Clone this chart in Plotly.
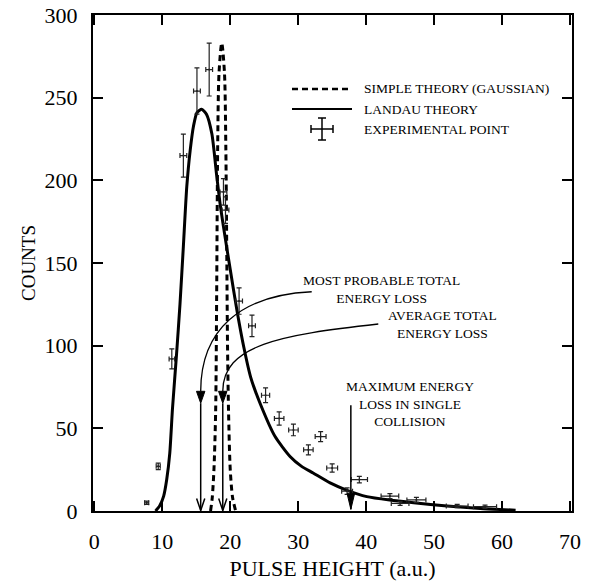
import plotly.graph_objects as go

# ---------------- data ----------------
landau_x = [9.0, 9.6, 10.2, 10.65, 11.1, 11.5, 12.1, 12.6, 13.1, 13.6, 14.1, 14.6, 15.1,
            15.8, 16.5, 17.3, 18.0, 18.5, 19.0, 20.0, 21.0, 22.0, 23.0, 24.4, 26.6, 28.8,
            30.5, 32.2, 34.7, 37.2, 40.1, 43.5, 47.0, 51.9, 56.8, 62.0]
landau_y = [0, 3, 9, 19, 35, 62, 95, 125, 160, 196, 218, 233, 241,
            243, 240, 228, 203, 186, 172, 146, 121, 99, 81, 65, 45, 33,
            27, 23, 17, 12.5, 8.7, 6.6, 5.0, 3.0, 1.5, 0.5]

gauss_x = [17.1, 17.35, 17.6, 17.85, 18.0, 18.15, 18.35, 18.75, 19.15, 19.35, 19.5, 19.6,
           19.75, 20.0, 20.35, 20.8]
gauss_y = [0, 8, 25, 60, 130, 220, 265, 283, 265, 220, 150, 100, 60, 25, 8, 0]

exp_x = [7.7, 9.4, 11.4, 13.1, 15.1, 16.9, 19.0, 19.3, 21.3, 23.2, 25.2, 27.2, 29.3, 31.5,
         33.3, 35.0, 37.2, 39.0, 43.5, 45.0, 47.4, 53.4, 57.5]
exp_y = [5, 27, 92, 215, 254, 267, 193, 182, 127, 112, 70, 56, 49, 37,
         45, 26, 12, 19, 9, 4.6, 6.7, 3, 2.6]
exp_xerr = [0.3, 0.3, 0.4, 0.5, 0.5, 0.5, 0.5, 0.5, 0.5, 0.5, 0.6, 0.7, 0.7, 0.7,
            0.8, 0.8, 0.8, 1.2, 1.3, 1.3, 1.4, 1.6, 1.7]
exp_yerr = [1, 2, 6, 13, 14, 16, 8, 8, 8, 6.5, 4.5, 4, 3.5, 3,
            3, 2.5, 2, 2, 1.5, 1.2, 1.5, 1, 1]

x_ticks = [0, 10, 20, 30, 40, 50, 60, 70]
y_ticks = [0, 50, 100, 150, 200, 250, 300]

MOST_PROBABLE = 15.65
AVERAGE = 18.9
MAX_SINGLE = 37.75

FONT = "Liberation Serif"

fig = go.Figure()

fig.add_trace(go.Scatter(x=gauss_x, y=gauss_y, mode="lines",
                         line=dict(color="black", width=3, dash="6px,4px", shape="spline", smoothing=0.8),
                         showlegend=False, hoverinfo="skip"))
fig.add_trace(go.Scatter(x=landau_x, y=landau_y, mode="lines",
                         line=dict(color="black", width=3, shape="spline", smoothing=0.6),
                         showlegend=False, hoverinfo="skip"))
fig.add_trace(go.Scatter(x=exp_x, y=exp_y, mode="markers",
                         marker=dict(color="#222", size=2),
                         error_x=dict(type="data", array=exp_xerr, color="#222", thickness=1.2, width=2.5),
                         error_y=dict(type="data", array=exp_yerr, color="#222", thickness=1.2, width=2.5),
                         showlegend=False))

shapes = []
# curved leader lines
shapes.append(dict(type="path", xref="x", yref="y",
                   path=f"M 31.99,132.6 C 21.44,130.6 {MOST_PROBABLE},109.5 {MOST_PROBABLE},72.4",
                   line=dict(color="black", width=1.3)))
shapes.append(dict(type="path", xref="x", yref="y",
                   path=f"M 41.79,113.1 C 27.32,106.5 {AVERAGE},100.4 {AVERAGE},72.4",
                   line=dict(color="black", width=1.3)))
for xv in (MOST_PROBABLE, AVERAGE):
    # filled triangle
    shapes.append(dict(type="path", xref="x", yref="y",
                       path=f"M {xv-0.62},72.4 L {xv+0.62},72.4 L {xv},65.2 Z",
                       fillcolor="black", line=dict(color="black", width=1)))
    # vertical line
    shapes.append(dict(type="line", xref="x", yref="y", x0=xv, x1=xv, y0=65.2, y1=0.3,
                       line=dict(color="black", width=1.5)))
    # open arrowhead
    shapes.append(dict(type="path", xref="x", yref="y",
                       path=f"M {xv-0.6},7.5 L {xv},0.3 L {xv+0.6},7.5",
                       line=dict(color="black", width=1.5)))
# max energy arrow
shapes.append(dict(type="line", xref="x", yref="y", x0=MAX_SINGLE, x1=MAX_SINGLE, y0=64.0, y1=1.0,
                   line=dict(color="black", width=1.5)))
shapes.append(dict(type="path", xref="x", yref="y",
                   path=f"M {MAX_SINGLE-0.55},10.5 L {MAX_SINGLE+0.55},10.5 L {MAX_SINGLE},1.0 Z",
                   fillcolor="black", line=dict(color="black", width=1)))

# manual legend
def px2paper_x(px):
    return (px - 93) / 479.0

def py2paper_y(py):
    return (511 - py) / 496.0

shapes.append(dict(type="line", xref="paper", yref="paper",
                   x0=px2paper_x(292), x1=px2paper_x(352), y0=py2paper_y(89), y1=py2paper_y(89),
                   line=dict(color="black", width=2.5, dash="6px,4px")))
shapes.append(dict(type="line", xref="paper", yref="paper",
                   x0=px2paper_x(292), x1=px2paper_x(352), y0=py2paper_y(109), y1=py2paper_y(109),
                   line=dict(color="black", width=2)))
cx, cy = 322, 129
for seg in [((cx - 11, cy), (cx + 11, cy)), ((cx, cy - 11), (cx, cy + 11)),
            ((cx - 11, cy - 4), (cx - 11, cy + 4)), ((cx + 11, cy - 4), (cx + 11, cy + 4)),
            ((cx - 4, cy - 11), (cx + 4, cy - 11)), ((cx - 4, cy + 11), (cx + 4, cy + 11))]:
    (a, b), (c, d) = seg
    shapes.append(dict(type="line", xref="paper", yref="paper",
                       x0=px2paper_x(a), x1=px2paper_x(c), y0=py2paper_y(b), y1=py2paper_y(d),
                       line=dict(color="black", width=1.5)))

annotations = []
for txt, py in [("SIMPLE THEORY (GAUSSIAN)", 89), ("LANDAU THEORY", 109), ("EXPERIMENTAL POINT", 129)]:
    annotations.append(dict(text=txt, xref="paper", yref="paper", x=px2paper_x(362), y=py2paper_y(py),
                            xanchor="left", yanchor="middle", showarrow=False,
                            font=dict(family=FONT, size=13.5, color="black")))
annotations.append(dict(text="MOST PROBABLE TOTAL<br>ENERGY LOSS", xref="x", yref="y", x=42.19, y=133.9,
                        xanchor="center", yanchor="middle", showarrow=False,
                        font=dict(family=FONT, size=13.5, color="black")))
annotations.append(dict(text="AVERAGE TOTAL<br>ENERGY LOSS", xref="x", yref="y", x=51.3, y=112.7,
                        xanchor="center", yanchor="middle", showarrow=False,
                        font=dict(family=FONT, size=13.5, color="black")))
annotations.append(dict(text="MAXIMUM ENERGY<br>LOSS IN SINGLE<br>COLLISION", xref="x", yref="y", x=46.4, y=64.7,
                        xanchor="center", yanchor="middle", showarrow=False,
                        font=dict(family=FONT, size=13.5, color="black")))

axis_common = dict(showline=True, linecolor="black", linewidth=2, mirror="allticks",
                   ticks="inside", ticklen=10, tickwidth=1.5, tickcolor="black",
                   showgrid=False, zeroline=False, automargin=False,
                   tickfont=dict(family=FONT, size=22, color="black"))

fig.update_layout(
    width=592, height=588,
    margin=dict(l=93, r=20, t=15, b=77),
    paper_bgcolor="white", plot_bgcolor="white",
    showlegend=False,
    xaxis=dict(range=[-0.2, 70.3], tickvals=x_ticks, ticklabelstandoff=10,
               title=dict(text="PULSE HEIGHT (a.u.)", font=dict(family=FONT, size=22, color="black"), standoff=7),
               **axis_common),
    yaxis=dict(range=[0, 300], tickvals=y_ticks, ticklabelstandoff=9,
               title=dict(text="COUNTS", font=dict(family=FONT, size=19, color="black"), standoff=4),
               **axis_common),
    shapes=shapes,
    annotations=annotations,
)

fig.write_html("out.html")
